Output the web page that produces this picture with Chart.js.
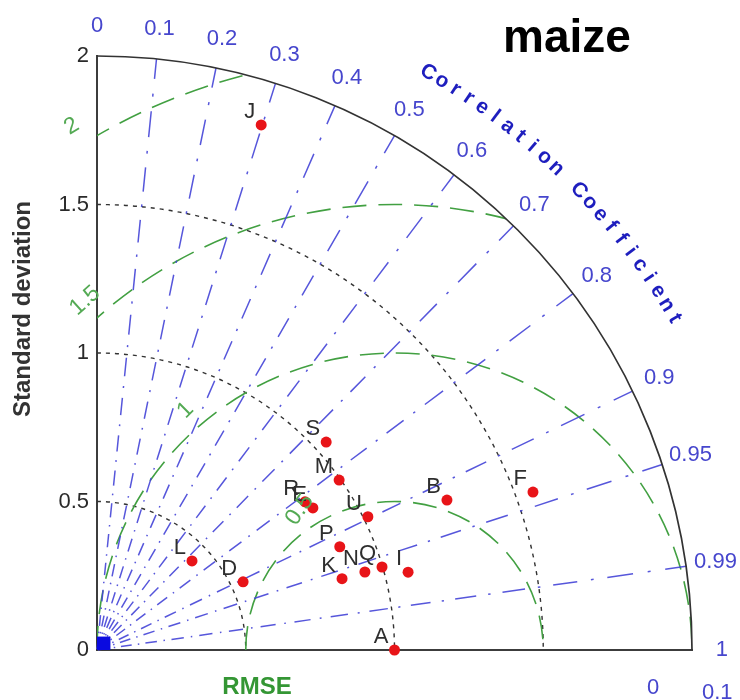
<!DOCTYPE html>
<html>
<head>
<meta charset="utf-8">
<title>maize</title>
<script src="https://cdn.jsdelivr.net/npm/chart.js@4/dist/chart.umd.min.js"></script>
<style>
  html, body { margin: 0; padding: 0; background: #ffffff; }
  #wrap { width: 740px; height: 700px; }
</style>
</head>
<body>
<div id="wrap"><canvas id="taylor" width="740" height="700"></canvas></div>
<script>
// Model statistics: standard deviation and correlation with the reference (A)
const modelNames = ['A', 'B', 'D', 'E', 'F', 'I', 'J', 'K', 'L', 'M', 'N', 'P', 'Q', 'R', 'S', 'U'];
const stdDev     = [1.000, 1.280, 0.542, 0.869, 1.559, 1.078, 1.852, 0.858, 0.438, 0.995, 0.938, 0.887, 0.998, 0.859, 1.041, 1.015];
const corrCoef   = [1.000, 0.919, 0.906, 0.835, 0.940, 0.970, 0.298, 0.960, 0.729, 0.818, 0.960, 0.920, 0.960, 0.814, 0.740, 0.897];

// Axis ticks
const stdTicks = [0, 0.5, 1, 1.5, 2];
const stdTickLabels = ['0', '0.5', '1', '1.5', '2'];
const corrTicks = [0, 0.1, 0.2, 0.3, 0.4, 0.5, 0.6, 0.7, 0.8, 0.9, 0.95, 0.99, 1];
const corrTickLabels = ['0', '0.1', '0.2', '0.3', '0.4', '0.5', '0.6', '0.7', '0.8', '0.9', '0.95', '0.99', '1'];
const corrLines = [0.1, 0.2, 0.3, 0.4, 0.5, 0.6, 0.7, 0.8, 0.9, 0.95, 0.99];
const stdArcs = [0.5, 1, 1.5];
const stdMax = 2;
const rmseLevels = [0.5, 1, 1.5, 2];
const rmseLabels = ['0.5', '1', '1.5', '2'];

const FONT = "'Liberation Sans', Arial, Helvetica, sans-serif";

function toXY(s, r) {
  return { x: s * r, y: s * Math.sqrt(Math.max(0, 1 - r * r)) };
}
const modelPoints = modelNames.map((n, i) => toXY(stdDev[i], corrCoef[i]));

function frame(chart) {
  const { x, y } = chart.scales;
  const ox = x.getPixelForValue(0), oy = y.getPixelForValue(0);
  const ux = x.getPixelForValue(1) - ox, uy = oy - y.getPixelForValue(1);
  return { ox, oy, ux, uy, P: (dx, dy) => [ox + dx * ux, oy - dy * uy] };
}

// Grid: std arcs, centred RMSE arcs, correlation rays, outer boundary
const diagramGrid = {
  id: 'diagramGrid',
  beforeDatasetsDraw(chart) {
    const ctx = chart.ctx;
    const { ox, oy, ux, uy, P } = frame(chart);
    ctx.save();

    // standard deviation arcs (dotted)
    ctx.strokeStyle = '#333333';
    ctx.lineWidth = 1.4;
    ctx.setLineDash([4, 5]);
    for (const r of stdArcs) {
      ctx.beginPath();
      ctx.ellipse(ox, oy, r * ux, r * uy, 0, -Math.PI / 2, 0);
      ctx.stroke();
    }

    // RMSE arcs around the reference point, kept inside the quarter disc
    ctx.save();
    ctx.beginPath();
    ctx.moveTo(ox, oy);
    ctx.ellipse(ox, oy, stdMax * ux, stdMax * uy, 0, -Math.PI / 2, 0);
    ctx.closePath();
    ctx.clip();
    ctx.strokeStyle = 'rgb(66,160,66)';
    ctx.lineWidth = 1.6;
    ctx.setLineDash([24, 12]);
    const [rx, ry] = P(1, 0);
    for (const R of rmseLevels) {
      ctx.beginPath();
      ctx.ellipse(rx, ry, R * ux, R * uy, 0, Math.PI, 2 * Math.PI);
      ctx.stroke();
    }
    ctx.restore();

    // correlation rays (dash-dot, pattern widening outwards)
    ctx.setLineDash([]);
    ctx.strokeStyle = 'rgba(68,68,215,0.9)';
    ctx.lineWidth = 1.5;
    for (const c of corrLines) {
      const s = Math.sqrt(1 - c * c);
      const [x1, y1] = P(stdMax * c, stdMax * s);
      const L = Math.hypot(x1 - ox, y1 - oy);
      const dx = (x1 - ox) / L, dy = (y1 - oy) / L;
      ctx.beginPath();
      let t = 1;
      while (t < L) {
        const per = 23 + 0.07 * t;
        const d = 0.44 * per, g = 0.25 * per, dot = Math.max(1.5, 0.05 * per);
        const b = Math.min(t + d, L);
        ctx.moveTo(ox + dx * t, oy + dy * t);
        ctx.lineTo(ox + dx * b, oy + dy * b);
        t += d + g;
        if (t < L) {
          const e = Math.min(t + dot, L);
          ctx.moveTo(ox + dx * t, oy + dy * t);
          ctx.lineTo(ox + dx * e, oy + dy * e);
        }
        t += dot + g;
      }
      ctx.stroke();
    }

    // outer boundary
    ctx.strokeStyle = '#333333';
    ctx.lineWidth = 1.7;
    ctx.beginPath();
    ctx.ellipse(ox, oy, stdMax * ux, stdMax * uy, 0, -Math.PI / 2, 0);
    ctx.stroke();
    ctx.restore();
  }
};

// Texts: point letters, correlation ticks, RMSE labels, titles
const diagramText = {
  id: 'diagramText',
  afterDatasetsDraw(chart) {
    const ctx = chart.ctx;
    const { P } = frame(chart);
    const meta = chart.getDatasetMeta(1);
    ctx.save();

    // model letters
    ctx.fillStyle = '#2e2e2e';
    ctx.font = '22px ' + FONT;
    ctx.textAlign = 'right';
    ctx.textBaseline = 'alphabetic';
    meta.data.forEach((pt, i) => {
      ctx.fillText(modelNames[i], pt.x - 6, pt.y - 7);
    });

    // correlation tick labels
    ctx.fillStyle = 'rgb(70,70,205)';
    ctx.font = '22px ' + FONT;
    ctx.textAlign = 'center';
    ctx.textBaseline = 'middle';
    corrTicks.forEach((c, i) => {
      const s = Math.sqrt(Math.max(0, 1 - c * c));
      const [px, py] = P(2.1 * c, 2.1 * s);
      ctx.fillText(corrTickLabels[i], px, py);
    });

    // curved axis title
    const title = [...'Correlation Coefficient'];
    const a0 = 60.2, a1 = 29.9, rt = 2.24;
    ctx.fillStyle = 'rgb(30,30,190)';
    ctx.font = 'bold 21px ' + FONT;
    title.forEach((ch, i) => {
      const a = a0 + (a1 - a0) * i / (title.length - 1);
      const rad = a * Math.PI / 180;
      const [px, py] = P(rt * Math.cos(rad), rt * Math.sin(rad));
      ctx.save();
      ctx.translate(px, py);
      ctx.rotate((90 - a) * Math.PI / 180);
      ctx.fillText(ch, 0, 0);
      ctx.restore();
    });

    // RMSE contour labels
    const labelAngles = [124, 131, 131.5, 121.6];
    const labelTilt = [-55, -45, -42, -31];
    ctx.fillStyle = 'rgb(84,170,84)';
    ctx.font = '23px ' + FONT;
    rmseLevels.forEach((R, i) => {
      const rad = labelAngles[i] * Math.PI / 180;
      const [px, py] = P(1 + (R + 0.07) * Math.cos(rad), (R + 0.07) * Math.sin(rad));
      ctx.save();
      ctx.translate(px, py);
      ctx.rotate(labelTilt[i] * Math.PI / 180);
      ctx.fillText(rmseLabels[i], 0, 0);
      ctx.restore();
    });

    // chart title
    ctx.fillStyle = '#000000';
    ctx.font = 'bold 46px ' + FONT;
    ctx.textAlign = 'center';
    ctx.textBaseline = 'alphabetic';
    ctx.fillText('maize', 567, 52);

    // axis names
    ctx.fillStyle = '#333333';
    ctx.font = 'bold 24px ' + FONT;
    ctx.textBaseline = 'middle';
    ctx.save();
    ctx.translate(23, 309);
    ctx.rotate(-Math.PI / 2);
    ctx.fillText('Standard deviation', 0, 0);
    ctx.restore();

    ctx.fillStyle = 'rgb(52,150,52)';
    ctx.fillText('RMSE', 257, 687);

    // labels of the neighbouring panel's axis
    ctx.fillStyle = 'rgb(70,70,205)';
    ctx.font = '22px ' + FONT;
    ctx.fillText('0', 653, 688);
    ctx.textAlign = 'left';
    ctx.fillText('0.1', 702, 693);

    ctx.restore();
  }
};

new Chart(document.getElementById('taylor'), {
  type: 'scatter',
  data: {
    datasets: [
      {
        label: 'origin',
        data: [{ x: 0, y: 0 }],
        pointStyle: 'rect',
        pointRadius: 19,
        pointHoverRadius: 19,
        backgroundColor: '#0a0ae0',
        borderWidth: 0,
        clip: 0
      },
      {
        label: 'models',
        data: modelPoints,
        pointRadius: 5.5,
        pointHoverRadius: 5.5,
        backgroundColor: 'rgb(232,20,24)',
        borderColor: 'rgb(232,20,24)',
        borderWidth: 0,
        clip: false
      }
    ]
  },
  options: {
    responsive: false,
    animation: false,
    events: [],
    layout: { padding: { top: 56, right: 48, left: 0, bottom: 0 } },
    plugins: { legend: { display: false }, tooltip: { enabled: false } },
    scales: {
      x: {
        type: 'linear',
        min: 0,
        max: stdMax,
        grid: { display: false, drawTicks: false },
        ticks: { display: false },
        border: { display: true, color: '#3c3c3c', width: 2 },
        afterFit(s) { s.height = 50; }
      },
      y: {
        type: 'linear',
        min: 0,
        max: stdMax,
        afterBuildTicks(s) { s.ticks = stdTicks.map(v => ({ value: v })); },
        ticks: {
          callback: (v, i) => stdTickLabels[i],
          color: '#2a2a2a',
          font: { family: FONT, size: 22 },
          padding: 8
        },
        grid: { display: false, drawTicks: false },
        border: { display: true, color: '#3c3c3c', width: 2 },
        afterFit(s) { s.width = 97; }
      }
    }
  },
  plugins: [diagramGrid, diagramText]
});
</script>
</body>
</html>
